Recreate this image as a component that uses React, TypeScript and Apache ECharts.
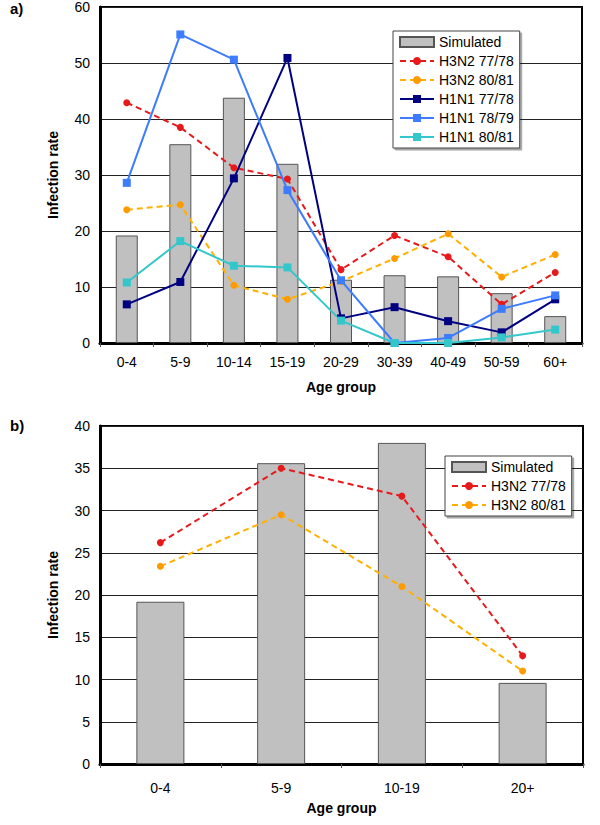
import React, { useEffect, useRef } from "react";
import * as echarts from "echarts";

const catsA = ["0-4", "5-9", "10-14", "15-19", "20-29", "30-39", "40-49", "50-59", "60+"];
const simA = [19.2, 35.5, 43.8, 32.0, 11.3, 12.1, 11.9, 8.9, 4.8];
const h3n2_7778A = [42.9, 38.5, 31.3, 29.3, 13.1, 19.2, 15.4, 6.9, 12.6];
const h3n2_8081A = [23.8, 24.7, 10.3, 7.8, 11.0, 15.1, 19.5, 11.8, 15.8];
const h1n1_7778A = [6.9, 10.9, 29.4, 50.9, 4.4, 6.4, 3.9, 1.9, 7.8];
const h1n1_7879A = [28.6, 55.1, 50.6, 27.3, 11.2, 0.0, 0.9, 6.1, 8.5];
const h1n1_8081A = [10.8, 18.2, 13.8, 13.5, 4.0, 0.0, 0.0, 1.0, 2.4];

const catsB = ["0-4", "5-9", "10-19", "20+"];
const simB = [19.2, 35.6, 38.0, 9.6];
const h3n2_7778B = [26.2, 35.0, 31.7, 12.8];
const h3n2_8081B = [23.4, 29.5, 21.0, 11.0];

const FONT = "Liberation Sans, Arial, sans-serif";
const RED = "#e8191b";
const ORANGE_LINE = "#ffb000";
const ORANGE_MARK = "#ff9a00";
const NAVY = "#000080";
const BLUE = "#3d7bff";
const CYAN = "#33c7cc";

export default function App() {
  const ref = useRef<HTMLDivElement>(null);
  useEffect(() => {
    const chart = echarts.init(ref.current!, null, { renderer: "svg" });
    const tickLabel = { color: "#000", fontFamily: FONT, fontSize: 14 };
    const nameStyle = { color: "#000", fontFamily: FONT, fontSize: 14, fontWeight: "bold" as const };
    const xAxisBase = (data: string[], gridIndex: number, margin: number, nameGap: number) => ({
      type: "category" as const,
      gridIndex,
      data,
      name: "Age group",
      nameLocation: "middle" as const,
      nameGap,
      nameTextStyle: nameStyle,
      axisLine: { show: true, lineStyle: { color: "#000", width: 3 } },
      axisTick: { show: true, alignWithLabel: false, length: 4, lineStyle: { color: "#555" } },
      axisLabel: { ...tickLabel, margin, interval: 0 },
      splitLine: { show: false },
    });
    const yAxisBase = (gridIndex: number, max: number, interval: number) => ({
      type: "value" as const,
      gridIndex,
      min: 0,
      max,
      interval,
      name: "Infection rate",
      nameLocation: "middle" as const,
      nameGap: 40,
      nameTextStyle: nameStyle,
      axisLine: { show: true, lineStyle: { color: "#000", width: 3 } },
      axisTick: { show: false },
      axisLabel: { ...tickLabel, margin: 10 },
      splitLine: { show: true, lineStyle: { color: "#222", width: 1 } },
    });
    const dashedLine = (name: string, data: number[], color: string, mark: string, xi: number) => ({
      type: "line" as const,
      name,
      xAxisIndex: xi,
      yAxisIndex: xi,
      data,
      symbol: "circle",
      symbolSize: 7,
      lineStyle: { color, width: 2, type: [6, 4] },
      itemStyle: { color: mark },
      z: 5,
    });
    const solidLine = (name: string, data: number[], color: string) => ({
      type: "line" as const,
      name,
      xAxisIndex: 0,
      yAxisIndex: 0,
      data,
      symbol: "rect",
      symbolSize: 8,
      lineStyle: { color, width: 2 },
      itemStyle: { color },
      z: 5,
    });
    const barSeries = (data: number[], xi: number, w: number) => ({
      type: "bar" as const,
      name: "Simulated",
      xAxisIndex: xi,
      yAxisIndex: xi,
      data,
      barWidth: w,
      itemStyle: { color: "#c0c0c0", borderColor: "#555", borderWidth: 1 },
      z: 2,
    });
    const legendBase = {
      orient: "vertical" as const,
      backgroundColor: "#fff",
      borderColor: "#444",
      borderWidth: 1,
      padding: [4, 6, 4, 6],
      itemWidth: 34,
      itemHeight: 10,
      itemGap: 5,
      textStyle: { color: "#000", fontFamily: FONT, fontSize: 14 },
      shadowColor: "rgba(0,0,0,0.35)",
      shadowOffsetX: 2,
      shadowOffsetY: 2,
      shadowBlur: 0,
      z: 10,
    };
    chart.setOption({
      animation: false,
      backgroundColor: "#fff",
      textStyle: { fontFamily: FONT },
      graphic: [
        { type: "text", left: 10, top: 1, style: { text: "a)", font: "bold 15px " + FONT, fill: "#000" } },
        { type: "text", left: 10, top: 418, style: { text: "b)", font: "bold 15px " + FONT, fill: "#000" } },
      ],
      grid: [
        { left: 100, top: 5, width: 482, height: 338, show: true, borderColor: "#000", borderWidth: 2, backgroundColor: "#fff" },
        { left: 100, top: 426, width: 483, height: 338, show: true, borderColor: "#000", borderWidth: 2, backgroundColor: "#fff" },
      ],
      legend: [
        {
          ...legendBase,
          left: 393,
          top: 31,
          data: [
            { name: "Simulated", icon: "rect" },
            "H3N2 77/78",
            "H3N2 80/81",
            "H1N1 77/78",
            "H1N1 78/79",
            "H1N1 80/81",
          ],
        },
        {
          ...legendBase,
          left: 445,
          top: 456,
          data: [{ name: "Simulated", icon: "rect" }, "H3N2 77/78", "H3N2 80/81"],
        },
      ],
      xAxis: [xAxisBase(catsA, 0, 12, 37), xAxisBase(catsB, 1, 17, 37)],
      yAxis: [yAxisBase(0, 60, 10), yAxisBase(1, 40, 5)],
      series: [
        barSeries(simA, 0, 22),
        dashedLine("H3N2 77/78", h3n2_7778A, RED, RED, 0),
        dashedLine("H3N2 80/81", h3n2_8081A, ORANGE_LINE, ORANGE_MARK, 0),
        solidLine("H1N1 77/78", h1n1_7778A, NAVY),
        solidLine("H1N1 78/79", h1n1_7879A, BLUE),
        solidLine("H1N1 80/81", h1n1_8081A, CYAN),
        barSeries(simB, 1, 48),
        dashedLine("H3N2 77/78", h3n2_7778B, RED, RED, 1),
        dashedLine("H3N2 80/81", h3n2_8081B, ORANGE_LINE, ORANGE_MARK, 1),
      ],
    });
    return () => chart.dispose();
  }, []);
  return (
    <div
      ref={ref}
      style={{ position: "absolute", left: 0, top: 0, width: 600, height: 825, background: "#fff" }}
    />
  );
}
